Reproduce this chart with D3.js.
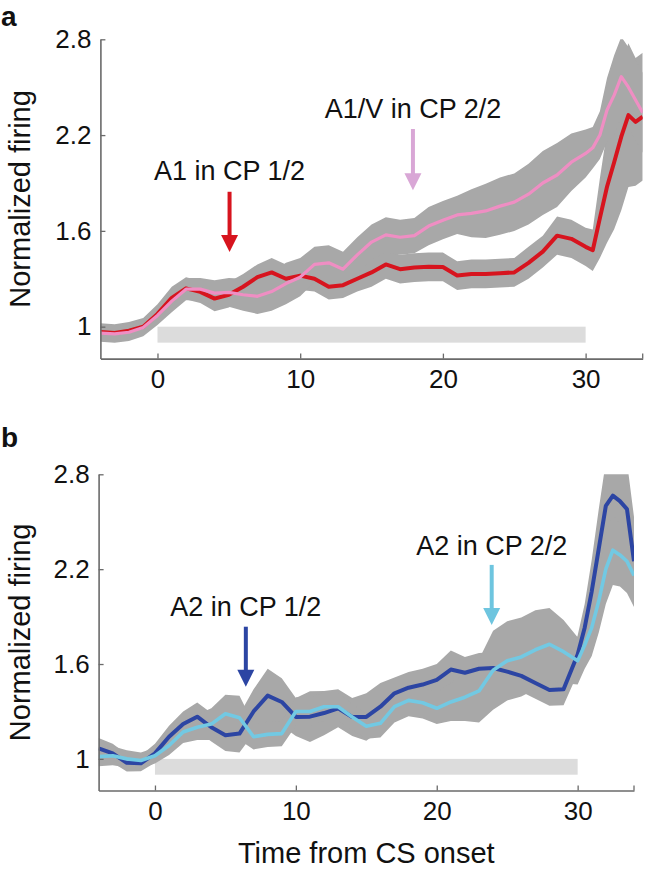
<!DOCTYPE html>
<html><head><meta charset="utf-8">
<script src="https://cdn.jsdelivr.net/npm/d3@7"></script>
<style>
body{margin:0;background:#fff;}
svg text{font-family:"Liberation Sans",Arial,Helvetica,sans-serif;fill:#111;}
</style>
</head><body>
<svg id="chart" width="645" height="873"></svg>
<script>
// ---------- DATA ----------
const time = [-4,-3,-2,-1,0,1,2,3,4,5,6,7,8,9,10,11,12,13,14,15,16,17,18,19,20,21,22,23,24,25,26,27,28,29,30,30.5,31,31.5,32,32.5,33,33.5,34];

// Panel a
const redA    = [0.967,0.96,0.975,1.0,1.08,1.18,1.24,1.218,1.176,1.20,1.25,1.31,1.34,1.30,1.32,1.30,1.25,1.26,1.30,1.34,1.39,1.36,1.37,1.375,1.374,1.32,1.33,1.33,1.335,1.34,1.40,1.47,1.57,1.55,1.50,1.479,1.68,1.876,2.03,2.19,2.325,2.283,2.315];
const redSem  = [0.055,0.055,0.055,0.055,0.06,0.07,0.07,0.07,0.08,0.08,0.08,0.08,0.09,0.09,0.09,0.08,0.08,0.08,0.08,0.09,0.09,0.09,0.09,0.09,0.09,0.09,0.09,0.09,0.09,0.09,0.1,0.1,0.12,0.12,0.12,0.13,0.25,0.35,0.42,0.46,0.45,0.4,0.4];
const pinkA   = [0.96,0.955,0.965,0.995,1.07,1.16,1.235,1.235,1.21,1.215,1.20,1.19,1.22,1.27,1.31,1.39,1.40,1.36,1.45,1.53,1.575,1.56,1.57,1.63,1.667,1.70,1.71,1.725,1.755,1.78,1.83,1.90,1.95,2.03,2.085,2.12,2.20,2.357,2.45,2.566,2.50,2.42,2.34];
const pinkSem = [0.055,0.055,0.055,0.055,0.06,0.07,0.07,0.07,0.08,0.09,0.1,0.11,0.12,0.13,0.12,0.11,0.11,0.11,0.11,0.11,0.11,0.11,0.11,0.12,0.12,0.12,0.15,0.17,0.18,0.18,0.19,0.2,0.2,0.18,0.15,0.13,0.15,0.2,0.25,0.25,0.25,0.25,0.25];

// Panel b
const darkB    = [1.067,1.035,0.975,0.972,1.035,1.14,1.22,1.267,1.20,1.15,1.16,1.30,1.40,1.36,1.265,1.267,1.29,1.32,1.265,1.265,1.33,1.415,1.45,1.47,1.50,1.565,1.545,1.57,1.575,1.552,1.525,1.48,1.436,1.44,1.66,1.83,2.06,2.33,2.60,2.665,2.63,2.58,2.25];
const darkSem  = [0.065,0.06,0.055,0.05,0.06,0.07,0.08,0.09,0.09,0.1,0.12,0.14,0.17,0.15,0.12,0.16,0.14,0.12,0.12,0.15,0.15,0.1,0.1,0.1,0.1,0.12,0.1,0.1,0.1,0.1,0.1,0.1,0.1,0.1,0.12,0.15,0.2,0.25,0.28,0.3,0.3,0.3,0.28];
const lightB   = [1.014,1.02,1.0,0.99,1.02,1.085,1.17,1.20,1.22,1.285,1.26,1.14,1.155,1.16,1.30,1.30,1.33,1.33,1.265,1.207,1.225,1.33,1.37,1.355,1.32,1.36,1.39,1.43,1.56,1.62,1.645,1.69,1.725,1.678,1.62,1.72,1.83,2.0,2.2,2.32,2.29,2.25,2.16];
const lightSem = [0.06,0.06,0.055,0.05,0.05,0.06,0.07,0.08,0.1,0.12,0.14,0.08,0.08,0.08,0.09,0.09,0.09,0.09,0.08,0.08,0.09,0.1,0.1,0.1,0.1,0.12,0.15,0.2,0.25,0.25,0.25,0.25,0.23,0.2,0.15,0.15,0.18,0.2,0.22,0.22,0.2,0.2,0.2];

// Axes / labels
const xDomain = [-4, 34];
const yDomain = [0.8, 2.8];
const xTicks = [0, 10, 20, 30];
const yTicks = [1, 1.6, 2.2, 2.8];
const yTickLabels = ["1", "1.6", "2.2", "2.8"];
const stimWindow = [0, 30];
const stimLevels = [0.9, 1.0];
const yLabel = "Normalized firing";
const xLabel = "Time from CS onset";

const annotationsA = [
  {text: "A1 in CP 1/2",   x: 5.05, textY: 1.918, from: 1.845, to: 1.468, color: "#d7141e"},
  {text: "A1/V in CP 2/2", x: 17.9, textY: 2.307, from: 2.238, to: 1.855, color: "#d9a7d6"}
];
const annotationsB = [
  {text: "A2 in CP 1/2", x: 6.45, textY: 1.901, from: 1.836, to: 1.457, color: "#2c45a3"},
  {text: "A2 in CP 2/2", x: 23.9, textY: 2.29,  from: 2.227, to: 1.847, color: "#6ec5df"}
];

// ---------- DRAW ----------
const svg = d3.select("#chart");
svg.append("rect").attr("width",645).attr("height",873).attr("fill","#fff");

const panels = [
  {letter:"a", lx:1, ly:26, x0:100.4, x1:642.7, yTop:39.3, yBot:358.6,
   series:[{v:redA, s:redSem, color:"#d7141e", w:4},{v:pinkA, s:pinkSem, color:"#ef8ec3", w:3.2}],
   notes: annotationsA, xlabel:false},
  {letter:"b", lx:1, ly:447, x0:98.6, x1:634, yTop:474.3, yBot:790.5,
   series:[{v:darkB, s:darkSem, color:"#2c45a3", w:4},{v:lightB, s:lightSem, color:"#72c9e3", w:3.6}],
   notes: annotationsB, xlabel:true}
];

panels.forEach((p, pi) => {
  const x = d3.scaleLinear().domain(xDomain).range([p.x0, p.x1]);
  const y = d3.scaleLinear().domain(yDomain).range([p.yBot, p.yTop]);
  const g = svg.append("g");

  const clipId = "clip" + pi;
  svg.append("clipPath").attr("id", clipId).append("rect")
    .attr("x", p.x0).attr("y", p.yTop).attr("width", p.x1 - p.x0).attr("height", p.yBot - p.yTop);

  // stimulus bar
  g.append("rect")
    .attr("x", x(stimWindow[0])).attr("width", x(stimWindow[1]) - x(stimWindow[0]))
    .attr("y", y(stimLevels[1])).attr("height", y(stimLevels[0]) - y(stimLevels[1]))
    .attr("fill", "#dcdcdc");

  const data = p.series.map(s => time.map((t, i) => ({t, v: s.v[i], s: s.s[i]})));

  const area = d3.area().x(d => x(d.t)).y0(d => y(d.v - d.s)).y1(d => y(d.v + d.s));
  const line = d3.line().x(d => x(d.t)).y(d => y(d.v));

  const bands = g.append("g").attr("clip-path", `url(#${clipId})`);
  data.forEach(d => bands.append("path").attr("d", area(d)).attr("fill", "#a8a8a8"));

  const lines = g.append("g").attr("clip-path", `url(#${clipId})`);
  p.series.forEach((s, i) => {
    lines.append("path").attr("d", line(data[i]))
      .attr("fill", "none").attr("stroke", s.color).attr("stroke-width", s.w)
      .attr("stroke-linejoin", "round");
  });

  // axes
  const xAxis = d3.axisBottom(x).tickValues(xTicks).tickFormat(d3.format("d"))
    .tickSizeInner(-5).tickSizeOuter(0).tickPadding(11);
  const ax = g.append("g").attr("transform", `translate(0,${p.yBot})`).call(xAxis);
  ax.select(".domain").attr("stroke", "#6a6a6a").attr("stroke-width", 1.6);
  ax.selectAll(".tick line").attr("stroke", "#6a6a6a").attr("stroke-width", 1.3);
  ax.selectAll(".tick text").attr("font-size", 26).attr("fill", "#111")
    .attr("font-family", '"Liberation Sans",Arial,sans-serif');
  ax.append("line").attr("x1", x(xDomain[1])).attr("x2", x(xDomain[1]))
    .attr("y1", 0).attr("y2", -5).attr("stroke", "#6a6a6a").attr("stroke-width", 1.3);

  const yAxis = d3.axisLeft(y).tickValues(yTicks).tickFormat((d, i) => yTickLabels[i])
    .tickSizeInner(-5).tickSizeOuter(0).tickPadding(9);
  const ay = g.append("g").attr("transform", `translate(${p.x0},0)`).call(yAxis);
  ay.select(".domain").attr("stroke", "#6a6a6a").attr("stroke-width", 1.6);
  ay.selectAll(".tick line").attr("stroke", "#6a6a6a").attr("stroke-width", 1.3);
  ay.selectAll(".tick text").attr("font-size", 26).attr("fill", "#111")
    .attr("font-family", '"Liberation Sans",Arial,sans-serif');

  // y label
  g.append("text")
    .attr("transform", `translate(30,${(p.yTop + p.yBot) / 2}) rotate(-90)`)
    .attr("text-anchor", "middle").attr("font-size", 29).text(yLabel);

  // panel letter
  g.append("text").attr("x", p.lx).attr("y", p.ly)
    .attr("font-size", 28).attr("font-weight", "bold").text(p.letter);

  // annotations
  p.notes.forEach(n => {
    const ax0 = x(n.x);
    const yStart = y(n.from), yEnd = y(n.to);
    const headLen = 17, headW = 8.5;
    g.append("text").attr("x", ax0).attr("y", y(n.textY))
      .attr("text-anchor", "middle").attr("font-size", 27).text(n.text);
    g.append("line").attr("x1", ax0).attr("x2", ax0)
      .attr("y1", yStart).attr("y2", yEnd - headLen + 1)
      .attr("stroke", n.color).attr("stroke-width", 4);
    g.append("path")
      .attr("d", d3.line()([[ax0 - headW, yEnd - headLen], [ax0 + headW, yEnd - headLen], [ax0, yEnd]]) + "Z")
      .attr("fill", n.color);
  });

  if (p.xlabel) {
    g.append("text").attr("x", (p.x0 + p.x1) / 2).attr("y", 863)
      .attr("text-anchor", "middle").attr("font-size", 29).text(xLabel);
  }
});
</script>
</body></html>
